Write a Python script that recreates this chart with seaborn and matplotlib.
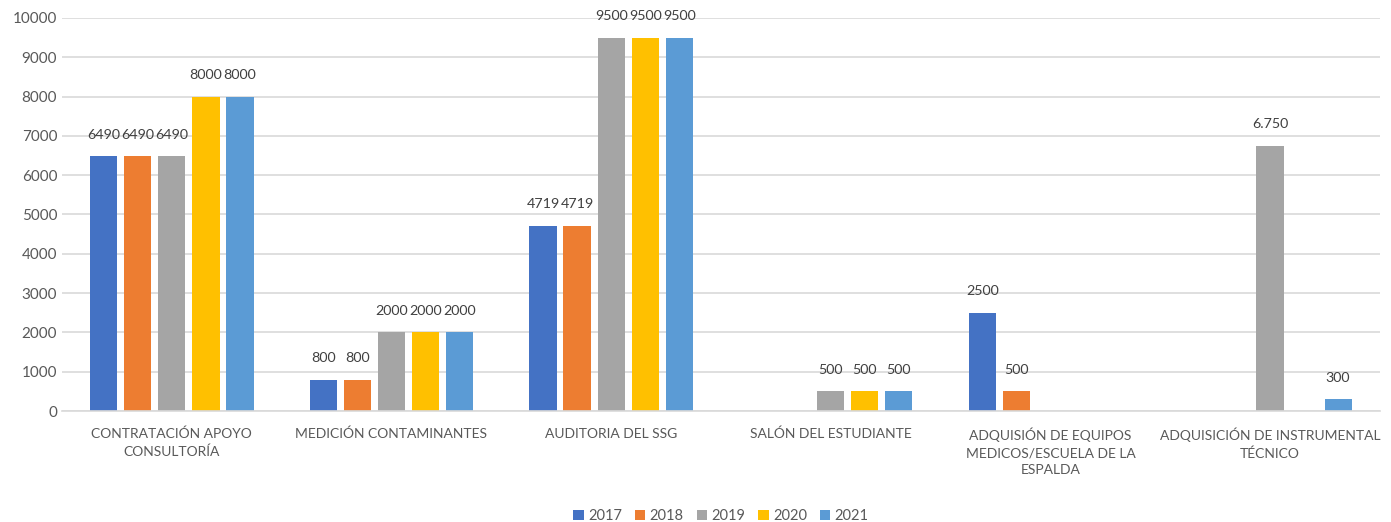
import numpy as np
import pandas as pd
import matplotlib
matplotlib.use("Agg")
import matplotlib.pyplot as plt
import seaborn as sns

# data
categories = [
    "CONTRATACIÓN APOYO\nCONSULTORÍA",
    "MEDICIÓN CONTAMINANTES",
    "AUDITORIA DEL SSG",
    "SALÓN DEL ESTUDIANTE",
    "ADQUISIÓN DE EQUIPOS\nMEDICOS/ESCUELA DE LA\nESPALDA",
    "ADQUISICIÓN DE INSTRUMENTAL\nTÉCNICO",
]
years = ["2017", "2018", "2019", "2020", "2021"]
v2017 = [6490, 800, 4719, np.nan, 2500, np.nan]
v2018 = [6490, 800, 4719, np.nan, 500, np.nan]
v2019 = [6490, 2000, 9500, 500, np.nan, 6750]
v2020 = [8000, 2000, 9500, 500, np.nan, np.nan]
v2021 = [8000, 2000, 9500, 500, np.nan, 300]
colors = ["#4472C4", "#ED7D31", "#A5A5A5", "#FFC000", "#5B9BD5"]

series = [v2017, v2018, v2019, v2020, v2021]
rows = []
for y, vals in zip(years, series):
    for c, v in zip(categories, vals):
        rows.append({"Categoria": c, "Año": y, "Valor": v})
df = pd.DataFrame(rows)

sns.set_style("white")
plt.rcParams["font.family"] = ["Lato", "DejaVu Sans"]
text_color = "#595959"

fig = plt.figure(figsize=(13.91, 5.22), dpi=100)
ax = fig.add_axes([0.0446, 0.2126, 0.9474, 0.753])

sns.barplot(data=df, x="Categoria", y="Valor", hue="Año", order=categories,
            hue_order=years, palette=colors, width=0.775, gap=0.2,
            saturation=1, linewidth=0, ax=ax, legend=True)

# value labels above bars
for cont, y in zip(ax.containers, years):
    labels = []
    for bar in cont:
        h = bar.get_height()
        if np.isnan(h) or h == 0:
            labels.append("")
        elif h == 6750:
            labels.append("6.750")
        else:
            labels.append(f"{int(h)}")
    ax.bar_label(cont, labels=labels, padding=11, fontsize=10.3, color="#404040")

ax.set_ylim(0, 10000)
ax.set_xlim(-0.5, 5.5)
ax.set_yticks(range(0, 10001, 1000))
ax.yaxis.grid(True, color="#D9D9D9", linewidth=1.2)
ax.set_axisbelow(True)
for s in ["top", "right", "left"]:
    ax.spines[s].set_visible(False)
ax.spines["bottom"].set_color("#D9D9D9")
ax.spines["bottom"].set_linewidth(1.2)
ax.tick_params(axis="y", length=0, labelsize=11, colors=text_color)
ax.tick_params(axis="x", length=0, labelsize=10, colors=text_color, pad=12)
for lab in ax.get_xticklabels():
    lab.set_linespacing(1.5)
ax.set_xlabel("")
ax.set_ylabel("")

ax.legend(loc="center", bbox_to_anchor=(0.5, -0.267), ncol=5, frameon=False,
          fontsize=10.5, handlelength=0.7, handleheight=0.7, handletextpad=0.3,
          columnspacing=0.9, labelcolor=text_color)

fig.savefig("out.png", dpi=100)
